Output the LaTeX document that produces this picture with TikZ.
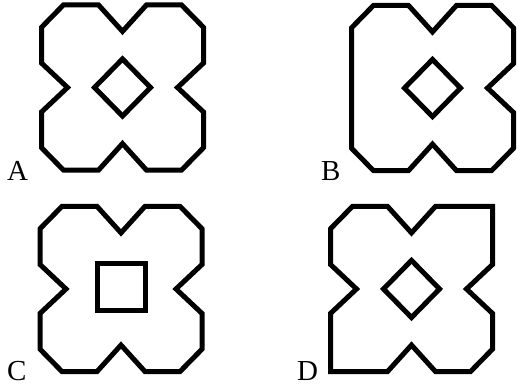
\documentclass[tikz,border=0pt]{standalone}
\usepackage{fontspec}
\setmainfont{Liberation Serif}
\begin{document}
\begin{tikzpicture}[x=10pt,y=10.2pt]
	\tikzset{tile/.style={line width=5pt},
		letter/.style={inner sep=0pt,anchor=base west,font=\fontsize{29}{29}\selectfont}}
	\useasboundingbox (0,0) rectangle (51.7,-38.04);
	% A
	\begin{scope}[shift={(12.25,-8.58)}]
		\draw[tile] (-5.9,8.1) -- (-2.4,8.1) -- (0,5.5) -- (2.4,8.1) -- (5.9,8.1) -- (8.1,5.9) -- (8.1,2.4) -- (5.5,0) -- (8.1,-2.4) -- (8.1,-5.9) -- (5.9,-8.1) -- (2.4,-8.1) -- (0,-5.5) -- (-2.4,-8.1) -- (-5.9,-8.1) -- (-8.1,-5.9) -- (-8.1,-2.4) -- (-5.5,0) -- (-8.1,2.4) -- (-8.1,5.9) -- cycle;
		\draw[tile] (0,2.8) -- (2.8,0) -- (0,-2.8) -- (-2.8,0) -- cycle;
	\end{scope}
	% B
	\begin{scope}[shift={(43.25,-8.63)}]
		\draw[tile] (-5.9,8.1) -- (-2.4,8.1) -- (0,5.5) -- (2.4,8.1) -- (5.9,8.1) -- (8.1,5.9) -- (8.1,2.4) -- (5.5,0) -- (8.1,-2.4) -- (8.1,-5.9) -- (5.9,-8.1) -- (2.4,-8.1) -- (0,-5.5) -- (-2.4,-8.1) -- (-5.9,-8.1) -- (-8.1,-5.9) -- (-8.1,5.9) -- cycle;
		\draw[tile] (0,2.8) -- (2.8,0) -- (0,-2.8) -- (-2.8,0) -- cycle;
	\end{scope}
	% C
	\begin{scope}[shift={(12.1,-28.33)}]
		\draw[tile] (-5.9,8.1) -- (-2.4,8.1) -- (0,5.5) -- (2.4,8.1) -- (5.9,8.1) -- (8.1,5.9) -- (8.1,2.4) -- (5.5,0) -- (8.1,-2.4) -- (8.1,-5.9) -- (5.9,-8.1) -- (2.4,-8.1) -- (0,-5.5) -- (-2.4,-8.1) -- (-5.9,-8.1) -- (-8.1,-5.9) -- (-8.1,-2.4) -- (-5.5,0) -- (-8.1,2.4) -- (-8.1,5.9) -- cycle;
		\draw[tile] (-2.4,-2.1) rectangle (2.4,2.5);
	\end{scope}
	% D
	\begin{scope}[shift={(41.15,-28.33)}]
		\draw[tile] (-5.9,8.1) -- (-2.4,8.1) -- (0,5.5) -- (2.4,8.1) -- (8.1,8.1) -- (8.1,2.4) -- (5.5,0) -- (8.1,-2.4) -- (8.1,-5.9) -- (5.9,-8.1) -- (2.4,-8.1) -- (0,-5.5) -- (-2.4,-8.1) -- (-8.1,-8.1) -- (-8.1,-2.4) -- (-5.5,0) -- (-8.1,2.4) -- (-8.1,5.9) -- cycle;
		\draw[tile] (0,2.8) -- (2.8,0) -- (0,-2.8) -- (-2.8,0) -- cycle;
	\end{scope}
	\node[letter] (la) at (0.7,-17.65) {A};
	\node[letter] (lb) at (32.1,-17.65) {B};
	\node[letter] (lc) at (0.7,-37.35) {C};
	\node[letter] (ld) at (29.7,-37.35) {D};
\end{tikzpicture}
\end{document}
